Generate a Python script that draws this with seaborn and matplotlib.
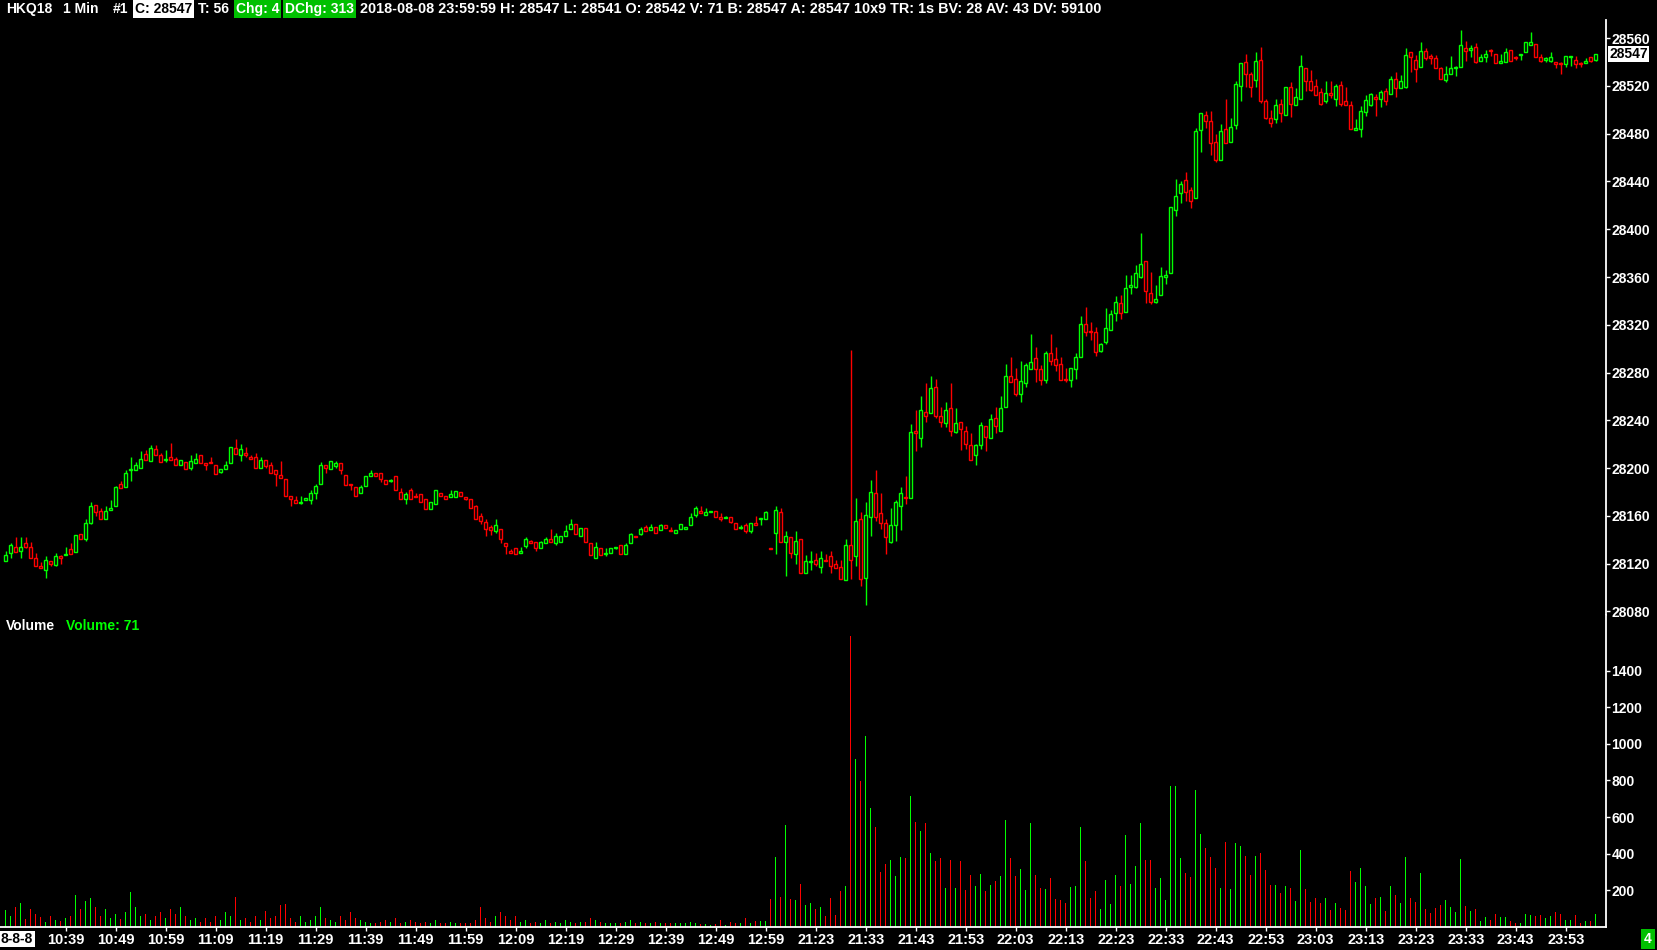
import numpy as np
import pandas as pd
import seaborn as sns
import matplotlib
matplotlib.use("Agg")
import matplotlib.pyplot as plt

UP = "#00ff00"
DOWN = "#ff0000"
BOX_GREEN = "#00c000"

# 1-minute bars, HKQ18, 2018-08-08 (day part 10:27-13:00, night part 21:15-23:59)
opens = [
    28122, 28129, 28134, 28131, 28137, 28134, 28125, 28118, 28115, 28122,
    28119, 28126, 28127, 28132, 28130, 28145, 28141, 28154, 28169, 28164,
    28157, 28165, 28168, 28187, 28184, 28198, 28198, 28200, 28212, 28206,
    28216, 28211, 28207, 28209, 28208, 28203, 28205, 28200, 28204, 28211,
    28204, 28205, 28203, 28197, 28199, 28204, 28217, 28211, 28213, 28209,
    28209, 28200, 28207, 28203, 28198, 28194, 28191, 28177, 28173, 28171,
    28173, 28173, 28179, 28187, 28203, 28199, 28202, 28204, 28194, 28187,
    28184, 28179, 28185, 28193, 28196, 28196, 28190, 28189, 28193, 28180,
    28174, 28182, 28177, 28178, 28174, 28166, 28170, 28179, 28177, 28176,
    28176, 28180, 28176, 28174, 28168, 28160, 28155, 28151, 28147, 28149,
    28137, 28131, 28133, 28129, 28135, 28139, 28138, 28133, 28137, 28141,
    28137, 28138, 28143, 28149, 28153, 28143, 28150, 28137, 28125, 28133,
    28128, 28129, 28133, 28136, 28128, 28137, 28143, 28145, 28151, 28148,
    28151, 28148, 28152, 28148, 28146, 28149, 28149, 28152, 28161, 28164,
    28161, 28163, 28164, 28159, 28158, 28159, 28154, 28150, 28152, 28147,
    28154, 28157, 28157, 28133, 28146, 28163, 28138, 28142, 28128, 28141,
    28112, 28121, 28123, 28117, 28123, 28126, 28120, 28117, 28106, 28136,
    28126, 28157, 28108, 28159, 28179, 28162, 28154, 28138, 28152, 28168,
    28176, 28175, 28231, 28225, 28247, 28246, 28268, 28244, 28238, 28250,
    28230, 28239, 28231, 28219, 28211, 28219, 28235, 28225, 28242, 28231,
    28251, 28277, 28275, 28262, 28271, 28283, 28292, 28283, 28274, 28296,
    28291, 28287, 28275, 28274, 28283, 28293, 28321, 28315, 28314, 28298,
    28306, 28316, 28330, 28338, 28331, 28352, 28352, 28360, 28373, 28347,
    28339, 28345, 28360, 28363, 28416, 28430, 28441, 28433, 28426, 28483,
    28496, 28491, 28473, 28458, 28484, 28473, 28487, 28520, 28540, 28530,
    28525, 28542, 28507, 28493, 28492, 28505, 28496, 28519, 28504, 28509,
    28535, 28524, 28520, 28515, 28507, 28514, 28509, 28521, 28507, 28504,
    28483, 28484, 28498, 28504, 28511, 28509, 28516, 28513, 28526, 28518,
    28519, 28548, 28542, 28536, 28549, 28545, 28543, 28535, 28525, 28530,
    28535, 28536, 28552, 28550, 28553, 28541, 28544, 28550, 28547, 28539,
    28540, 28550, 28544, 28546, 28548, 28554, 28555, 28544, 28542, 28541,
    28540, 28539, 28538, 28544, 28542, 28539, 28539, 28544, 28542,
]
highs = [
    28131, 28137, 28142, 28142, 28142, 28138, 28129, 28121, 28126, 28122,
    28129, 28127, 28134, 28137, 28144, 28145, 28157, 28172, 28169, 28167,
    28168, 28173, 28185, 28189, 28198, 28209, 28205, 28214, 28215, 28219,
    28219, 28213, 28215, 28221, 28209, 28207, 28205, 28211, 28213, 28211,
    28204, 28209, 28203, 28199, 28206, 28218, 28224, 28220, 28218, 28211,
    28213, 28209, 28207, 28205, 28198, 28206, 28191, 28177, 28177, 28177,
    28175, 28182, 28187, 28205, 28203, 28206, 28206, 28204, 28194, 28187,
    28184, 28186, 28193, 28198, 28196, 28196, 28190, 28191, 28193, 28183,
    28180, 28183, 28179, 28178, 28174, 28172, 28182, 28179, 28177, 28182,
    28181, 28180, 28176, 28174, 28169, 28162, 28157, 28152, 28157, 28149,
    28137, 28132, 28133, 28134, 28142, 28140, 28138, 28139, 28142, 28149,
    28146, 28143, 28152, 28157, 28153, 28150, 28150, 28137, 28138, 28133,
    28133, 28133, 28134, 28136, 28137, 28146, 28143, 28151, 28152, 28153,
    28151, 28153, 28152, 28151, 28148, 28153, 28151, 28162, 28168, 28168,
    28167, 28164, 28164, 28162, 28160, 28159, 28154, 28152, 28154, 28154,
    28160, 28158, 28164, 28133, 28168, 28167, 28147, 28142, 28147, 28141,
    28127, 28131, 28129, 28131, 28128, 28131, 28123, 28123, 28141, 28299,
    28175, 28163, 28172, 28190, 28198, 28179, 28157, 28167, 28173, 28184,
    28193, 28237, 28249, 28260, 28271, 28277, 28275, 28251, 28255, 28271,
    28250, 28239, 28235, 28229, 28220, 28239, 28235, 28245, 28251, 28260,
    28287, 28293, 28284, 28290, 28288, 28312, 28301, 28286, 28298, 28312,
    28301, 28293, 28284, 28284, 28296, 28327, 28335, 28322, 28318, 28305,
    28334, 28332, 28344, 28345, 28362, 28362, 28370, 28397, 28373, 28364,
    28353, 28368, 28366, 28419, 28442, 28440, 28448, 28435, 28485, 28497,
    28499, 28499, 28480, 28488, 28509, 28493, 28524, 28539, 28547, 28532,
    28548, 28553, 28509, 28500, 28509, 28509, 28519, 28523, 28518, 28546,
    28535, 28533, 28526, 28518, 28524, 28524, 28522, 28524, 28519, 28507,
    28492, 28503, 28512, 28514, 28513, 28517, 28518, 28528, 28532, 28529,
    28552, 28548, 28546, 28557, 28552, 28547, 28546, 28536, 28537, 28545,
    28537, 28567, 28558, 28554, 28556, 28547, 28550, 28551, 28547, 28547,
    28552, 28550, 28545, 28547, 28557, 28565, 28555, 28547, 28544, 28548,
    28540, 28540, 28545, 28545, 28545, 28540, 28543, 28544, 28547,
]
lows = [
    28122, 28125, 28130, 28125, 28133, 28125, 28118, 28116, 28108, 28118,
    28118, 28120, 28127, 28128, 28130, 28141, 28139, 28153, 28160, 28157,
    28157, 28165, 28168, 28183, 28184, 28189, 28198, 28200, 28207, 28206,
    28211, 28205, 28205, 28207, 28203, 28203, 28199, 28198, 28204, 28204,
    28198, 28204, 28195, 28196, 28199, 28204, 28212, 28206, 28209, 28208,
    28200, 28200, 28200, 28196, 28185, 28192, 28177, 28168, 28171, 28170,
    28173, 28170, 28174, 28187, 28196, 28199, 28200, 28195, 28186, 28182,
    28177, 28179, 28185, 28193, 28193, 28188, 28187, 28188, 28182, 28174,
    28170, 28174, 28176, 28172, 28166, 28166, 28170, 28177, 28174, 28176,
    28176, 28177, 28173, 28167, 28157, 28153, 28143, 28144, 28146, 28137,
    28128, 28129, 28128, 28129, 28133, 28137, 28131, 28133, 28137, 28138,
    28136, 28138, 28143, 28149, 28145, 28143, 28138, 28127, 28125, 28127,
    28126, 28129, 28132, 28128, 28128, 28137, 28142, 28144, 28147, 28148,
    28146, 28148, 28150, 28147, 28146, 28149, 28149, 28152, 28159, 28162,
    28161, 28163, 28159, 28156, 28158, 28154, 28149, 28149, 28146, 28146,
    28152, 28152, 28157, 28132, 28128, 28138, 28110, 28125, 28120, 28112,
    28112, 28115, 28118, 28112, 28122, 28112, 28116, 28107, 28106, 28107,
    28118, 28101, 28085, 28143, 28156, 28149, 28128, 28137, 28139, 28148,
    28170, 28175, 28214, 28218, 28239, 28246, 28242, 28234, 28234, 28227,
    28229, 28215, 28216, 28207, 28203, 28216, 28214, 28225, 28229, 28231,
    28251, 28272, 28260, 28255, 28268, 28283, 28272, 28270, 28271, 28286,
    28281, 28274, 28272, 28268, 28275, 28293, 28311, 28307, 28294, 28297,
    28304, 28316, 28323, 28325, 28331, 28346, 28351, 28359, 28338, 28337,
    28338, 28345, 28354, 28363, 28411, 28422, 28424, 28418, 28426, 28465,
    28485, 28462, 28456, 28458, 28472, 28473, 28484, 28507, 28519, 28511,
    28519, 28506, 28492, 28486, 28489, 28490, 28496, 28494, 28504, 28509,
    28516, 28516, 28512, 28504, 28506, 28510, 28503, 28503, 28504, 28484,
    28483, 28477, 28495, 28503, 28495, 28502, 28504, 28513, 28511, 28518,
    28518, 28532, 28523, 28536, 28542, 28538, 28535, 28526, 28523, 28530,
    28528, 28536, 28541, 28544, 28539, 28541, 28540, 28545, 28539, 28539,
    28540, 28541, 28542, 28542, 28548, 28554, 28544, 28540, 28540, 28540,
    28535, 28530, 28536, 28537, 28535, 28536, 28539, 28540, 28541,
]
closes = [
    28127, 28136, 28130, 28134, 28134, 28125, 28118, 28116, 28123, 28120,
    28126, 28125, 28128, 28128, 28144, 28141, 28154, 28168, 28163, 28157,
    28164, 28167, 28184, 28183, 28196, 28199, 28203, 28208, 28207, 28217,
    28211, 28205, 28208, 28207, 28203, 28207, 28199, 28206, 28208, 28204,
    28203, 28204, 28195, 28199, 28203, 28218, 28212, 28216, 28211, 28208,
    28200, 28207, 28202, 28196, 28195, 28192, 28177, 28174, 28171, 28172,
    28175, 28179, 28185, 28203, 28200, 28206, 28204, 28198, 28186, 28186,
    28177, 28184, 28193, 28196, 28193, 28191, 28187, 28190, 28182, 28174,
    28178, 28174, 28176, 28172, 28166, 28172, 28182, 28177, 28174, 28178,
    28181, 28177, 28174, 28167, 28157, 28156, 28149, 28148, 28152, 28141,
    28135, 28129, 28128, 28131, 28141, 28137, 28133, 28138, 28141, 28138,
    28143, 28143, 28147, 28153, 28145, 28150, 28138, 28127, 28134, 28127,
    28129, 28133, 28134, 28128, 28136, 28145, 28142, 28149, 28147, 28151,
    28146, 28152, 28150, 28147, 28148, 28153, 28151, 28159, 28167, 28162,
    28163, 28164, 28159, 28157, 28159, 28155, 28149, 28151, 28147, 28154,
    28152, 28158, 28163, 28132, 28165, 28138, 28143, 28129, 28139, 28112,
    28122, 28122, 28120, 28125, 28122, 28118, 28116, 28107, 28136, 28123,
    28156, 28107, 28161, 28180, 28159, 28154, 28142, 28152, 28172, 28179,
    28175, 28230, 28229, 28249, 28244, 28267, 28244, 28239, 28249, 28231,
    28238, 28233, 28220, 28207, 28219, 28236, 28226, 28241, 28235, 28250,
    28277, 28272, 28262, 28273, 28286, 28289, 28283, 28274, 28296, 28290,
    28286, 28274, 28274, 28284, 28293, 28321, 28314, 28314, 28297, 28304,
    28317, 28329, 28339, 28330, 28351, 28353, 28363, 28371, 28348, 28339,
    28342, 28361, 28362, 28419, 28428, 28438, 28431, 28424, 28482, 28497,
    28491, 28472, 28458, 28482, 28472, 28486, 28522, 28539, 28530, 28519,
    28541, 28507, 28493, 28489, 28504, 28497, 28519, 28505, 28511, 28537,
    28524, 28517, 28512, 28505, 28514, 28512, 28520, 28505, 28504, 28484,
    28485, 28499, 28508, 28513, 28509, 28515, 28507, 28526, 28518, 28524,
    28546, 28544, 28534, 28549, 28543, 28543, 28535, 28526, 28530, 28535,
    28536, 28554, 28549, 28552, 28540, 28544, 28547, 28549, 28539, 28541,
    28548, 28541, 28543, 28547, 28557, 28557, 28544, 28541, 28543, 28544,
    28538, 28538, 28545, 28545, 28538, 28538, 28541, 28541, 28547,
]
volumes = [
    92, 60, 110, 133, 45, 100, 70, 55, 30, 60,
    40, 35, 50, 60, 173, 100, 140, 156, 110, 60,
    100, 50, 70, 45, 80, 190, 110, 60, 70, 40,
    60, 80, 50, 100, 70, 110, 60, 40, 50, 30,
    50, 30, 60, 40, 80, 60, 162, 40, 50, 30,
    60, 40, 90, 50, 60, 120, 127, 50, 30, 60,
    30, 40, 60, 110, 50, 40, 30, 60, 40, 80,
    50, 40, 30, 20, 20, 30, 40, 30, 50, 20,
    30, 40, 30, 20, 30, 20, 40, 20, 20, 30,
    20, 20, 20, 20, 40, 110, 50, 30, 60, 80,
    60, 40, 60, 30, 40, 20, 30, 20, 40, 20,
    30, 20, 40, 30, 20, 30, 30, 50, 40, 30,
    20, 20, 20, 20, 30, 40, 20, 30, 20, 20,
    30, 20, 20, 20, 20, 20, 20, 30, 20,
    16, 16, 11, 16, 38, 11, 27, 22, 22, 49,
    22, 33, 33, 33, 153, 382, 164, 556, 153, 147,
    235, 120, 131, 98, 109, 60, 158, 65, 196, 224,
    1589, 916, 796, 1042, 649, 545, 300, 344, 365, 278,
    382, 376, 715, 573, 524, 567, 404, 360, 376, 213,
    365, 213, 360, 202, 284, 224, 289, 196, 229, 251,
    278, 584, 376, 278, 316, 202, 567, 284, 213, 207,
    267, 153, 147, 131, 218, 224, 545, 360, 158, 196,
    98, 256, 125, 284, 224, 502, 235, 333, 567, 365,
    365, 213, 267, 147, 769, 769, 376, 295, 273, 747,
    507, 431, 382, 322, 213, 464, 207, 458, 442, 387,
    284, 387, 404, 311, 229, 229, 185, 224, 213, 142,
    420, 207, 136, 158, 131, 158, 93, 131, 104, 93,
    305, 245, 322, 224, 125, 158, 164, 87, 224, 175,
    131, 382, 158, 136, 295, 98, 76, 104, 120, 147,
    109, 82, 371, 115, 87, 98, 33, 55, 38, 71,
    55, 55, 33, 22, 22, 71, 65, 60, 65, 49,
    60, 82, 71, 38, 38, 65, 22, 33, 33, 71,
]

day_times = pd.date_range("2018-08-08 10:27", "2018-08-08 13:00", freq="1min")
night_times = pd.date_range("2018-08-08 21:15", "2018-08-08 23:59", freq="1min")
times = day_times.append(night_times)

price_ticks = list(range(28080, 28561, 40))
volume_ticks = list(range(200, 1401, 200))

sns.set_style("dark", {"axes.facecolor": "black", "figure.facecolor": "black"})
plt.rcParams["font.family"] = ["Liberation Sans", "DejaVu Sans"]

o = np.array(opens)
h = np.array(highs)
l = np.array(lows)
c = np.array(closes)
x = np.arange(len(o))
up = c >= o
colors = np.where(up, UP, DOWN)

W, H = 1658, 950
fig = plt.figure(figsize=(W / 100, H / 100), dpi=100, facecolor="black")
right = 1606 / W
ax = fig.add_axes([0, (H - 615) / H, right, 595 / H])
axv = fig.add_axes([0, (H - 927) / H, right, 312 / H], sharex=ax)

# candles: wick + hollow body
ax.vlines(x, l, h, colors=colors, linewidth=1.0, zorder=1)
ax.bar(x, np.maximum(np.abs(c - o), 0.3), bottom=np.minimum(o, c), width=0.55,
       color="black", edgecolor=colors, linewidth=1.0, zorder=2)

vol_df = pd.DataFrame({"bar": x, "volume": volumes,
                       "dir": np.where(up, "up", "down")})
sns.barplot(data=vol_df, x="bar", y="volume", hue="dir",
            palette={"up": UP, "down": DOWN}, native_scale=True, width=0.28,
            dodge=False, legend=False, errorbar=None, saturation=1,
            linewidth=0, ax=axv)

ax.set_xlim(-1.14, 320.06)
ax.set_ylim(28077.0, 28575.2)
axv.set_ylim(0, 1703)

for a in (ax, axv):
    a.set_facecolor("black")
    a.grid(False)
    for s in ("left", "top", "bottom"):
        a.spines[s].set_visible(False)
    a.spines["right"].set_visible(True)
    a.spines["right"].set_color("white")
    a.spines["right"].set_linewidth(1.3)
    a.yaxis.tick_right()
    a.tick_params(axis="y", colors="white", length=3, width=1, pad=1,
                  labelsize=10, labelcolor="white", right=True, left=False)
    a.set_xlabel("")
    a.set_ylabel("")

ax.set_yticks(price_ticks)
ax.set_yticklabels([str(v) for v in price_ticks], fontweight="bold")
ax.tick_params(axis="x", bottom=False, labelbottom=False)

axv.set_yticks(volume_ticks)
axv.set_yticklabels([str(v) for v in volume_ticks], fontweight="bold")
axv.spines["bottom"].set_visible(True)
axv.spines["bottom"].set_color("white")
axv.spines["bottom"].set_linewidth(1.3)
tick_idx = list(range(12, len(times), 10))
axv.set_xticks(tick_idx)
axv.set_xticklabels([times[i].strftime("%H:%M") for i in tick_idx],
                    fontweight="bold")
axv.tick_params(axis="x", colors="white", length=3, width=1, pad=1.5,
                labelsize=10.5, bottom=True)
axv.set_xlim(-1.14, 320.06)

# last price marker on the right scale
ax.text(1.002, closes[-1], str(closes[-1]), transform=ax.get_yaxis_transform(),
        ha="left", va="center", fontsize=10, fontweight="bold", color="black",
        bbox=dict(facecolor="white", edgecolor="none", pad=0.8), clip_on=False)

# header line
hy = 1 - 9 / H
segments = [
    (6, "HKQ18", "white", None, 10),
    (63, "1 Min", "white", None, 10),
    (113, "#1", "white", None, 10),
    (135, "C: 28547", "black", "white", 10),
    (198, "T: 56", "white", None, 10),
    (236, "Chg: 4", "white", BOX_GREEN, 10),
    (285, "DChg: 313", "white", BOX_GREEN, 10),
    (360, "2018-08-08 23:59:59 H: 28547 L: 28541 O: 28542 V: 71 B: 28547 "
          "A: 28547 10x9 TR: 1s BV: 28 AV: 43 DV: 59100", "white", None, 10.4),
]
for px, txt, fc, bg, fs in segments:
    kw = {}
    if bg:
        kw["bbox"] = dict(facecolor=bg, edgecolor="none", pad=1.2)
    fig.text(px / W, hy, txt, color=fc, fontsize=fs, fontweight="bold",
             ha="left", va="center", **kw)

fig.text(6 / W, 1 - 626 / H, "Volume", color="white", fontsize=10,
         fontweight="bold", ha="left", va="center")
fig.text(66 / W, 1 - 626 / H, "Volume: 71", color=UP, fontsize=10,
         fontweight="bold", ha="left", va="center")

fig.text(1 / W, 1 - 939 / H, "8-8-8", color="black", fontsize=10,
         fontweight="bold", ha="left", va="center",
         bbox=dict(facecolor="white", edgecolor="none", pad=1.0))
fig.text(1648 / W, 1 - 939 / H, "4", color="white", fontsize=10,
         fontweight="bold", ha="center", va="center",
         bbox=dict(facecolor=BOX_GREEN, edgecolor="none", pad=2.0))

fig.savefig("out.png", dpi=100, facecolor="black")
